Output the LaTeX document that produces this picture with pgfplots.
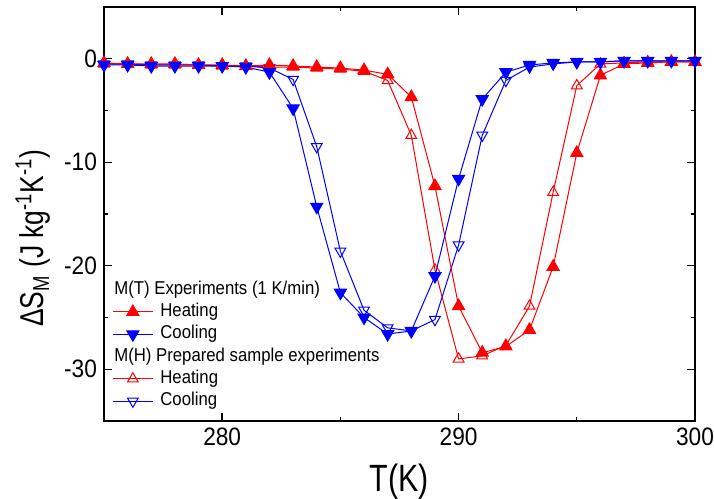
\documentclass[border=0pt]{standalone}
\usepackage{fontspec}
\setmainfont{Liberation Sans}
\newfontfamily\tickfont{Liberation Sans}[FakeStretch=0.9]
\newfontfamily\labfont{Liberation Sans}[FakeStretch=0.8]
\usepackage{pgfplots}
\pgfplotsset{compat=1.18}

% M(T) experiments, 1 K/min
\pgfplotstableread{
T    heat   cool
275  -0.4   -0.6
276  -0.5   -0.6
277  -0.5   -0.7
278  -0.5   -0.7
279  -0.6   -0.7
280  -0.6   -0.7
281  -0.7   -0.8
282  -0.6   -1.3
283  -0.7   -4.8
284  -0.8   -14.3
285  -0.9   -22.6
286  -1.1   -25.0
287  -1.5   -26.6
288  -3.7   -26.3
289  -12.3  -21.0
290  -23.9  -11.6
291  -28.4  -3.9
292  -27.8  -1.3
293  -26.2  -0.6
294  -20.1  -0.4
295  -9.1   -0.3
296  -1.6   -0.3
297  -0.5   -0.2
298  -0.4   -0.2
299  -0.3   -0.2
300  -0.3   -0.2
}\mtdata

% M(H) prepared sample experiments
\pgfplotstableread{
T    heat   cool
275  -0.5   -0.5
276  -0.5   -0.5
277  -0.6   -0.6
278  -0.6   -0.6
279  -0.6   -0.6
280  -0.7   -0.7
281  -0.7   -0.7
282  -0.8   -0.9
283  -0.8   -2.0
284  -0.9   -8.5
285  -1.0   -18.6
286  -1.2   -24.3
287  -2.1   -26.0
288  -7.4   -26.3
289  -20.4  -25.2
290  -29.0  -18.0
291  -28.7  -7.4
292  -27.7  -2.1
293  -23.9  -0.8
294  -12.9  -0.5
295  -2.6   -0.3
296  -0.5   -0.3
297  -0.4   -0.2
298  -0.3   -0.2
299  -0.3   -0.2
300  -0.3   -0.2
}\mhdata

\begin{document}
\begin{tikzpicture}
\begin{axis}[
  at={(0,0)}, anchor=south west,
  scale only axis, width=295.5pt, height=207pt,
  xmin=275, xmax=300, ymin=-35, ymax=5,
  xtick={280,290,300}, minor xtick={275,285,295},
  ytick={-30,-20,-10,0}, minor ytick={-35,-25,-15,-5,5},
  tick align=inside,
  major tick length=4pt, minor tick length=2.2pt,
  axis line style={line width=1pt},
  tick style={line width=0.7pt, black},
  ticklabel style={font=\fontsize{12.6}{15}\selectfont\tickfont},
  /pgf/number format/assume math mode=true,
  xlabel={T(K)},
  ylabel={ΔS\textsubscript{M} (J kg\textsuperscript{-1}K\textsuperscript{-1})},
  xlabel style={font=\fontsize{19}{22}\selectfont\labfont,
    at={(axis description cs:0.5,-0.147)}, anchor=center},
  ylabel style={font=\fontsize{16.5}{20}\selectfont\labfont,
    at={(axis description cs:-0.12,0.442)}, anchor=center},
  legend cell align=left,
  legend style={at={(axis description cs:0.0135,0.024)}, anchor=south west,
    draw=none, fill=none, inner sep=0pt, row sep=1.65pt, column sep=3pt,
    font=\fontsize{9.3}{11}\selectfont\tickfont,
    nodes={inner sep=0.5pt, text height=6.5pt, text depth=2pt}},
  legend image code/.code={
    \draw[mark repeat=2,mark phase=2] plot coordinates {(0pt,0pt)(10pt,0pt)(20pt,0pt)};},
]
\addplot[forget plot, red, line width=0.5pt, mark=triangle, mark size=3.1pt,
  mark options={solid, fill=white}] table[x=T, y=heat] {\mhdata};
\addplot[forget plot, blue, line width=0.5pt, mark=triangle, mark size=3.1pt,
  mark options={solid, fill=white, rotate=180}] table[x=T, y=cool] {\mhdata};
\addplot[forget plot, red, line width=0.5pt, mark=triangle*, mark size=3.5pt]
  table[x=T, y=heat] {\mtdata};
\addplot[forget plot, blue, line width=0.5pt, mark=triangle*, mark size=3.5pt,
  mark options={rotate=180}] table[x=T, y=cool] {\mtdata};

\addlegendimage{empty legend}
\addlegendentry{\hspace{-23pt}M(T) Experiments (1 K/min)}
\addlegendimage{red, line width=0.5pt, mark=triangle*, mark size=3.5pt}
\addlegendentry{Heating}
\addlegendimage{blue, line width=0.5pt, mark=triangle*, mark size=3.5pt, mark options={rotate=180}}
\addlegendentry{Cooling}
\addlegendimage{empty legend}
\addlegendentry{\hspace{-23pt}M(H) Prepared sample experiments}
\addlegendimage{red, line width=0.5pt, mark=triangle, mark size=3.1pt, mark options={fill=white}}
\addlegendentry{Heating}
\addlegendimage{blue, line width=0.5pt, mark=triangle, mark size=3.1pt, mark options={fill=white, rotate=180}}
\addlegendentry{Cooling}
\end{axis}
\pgfresetboundingbox
\path[use as bounding box] (-52pt,-39pt) rectangle (305pt,210.5pt);
\end{tikzpicture}
\end{document}
